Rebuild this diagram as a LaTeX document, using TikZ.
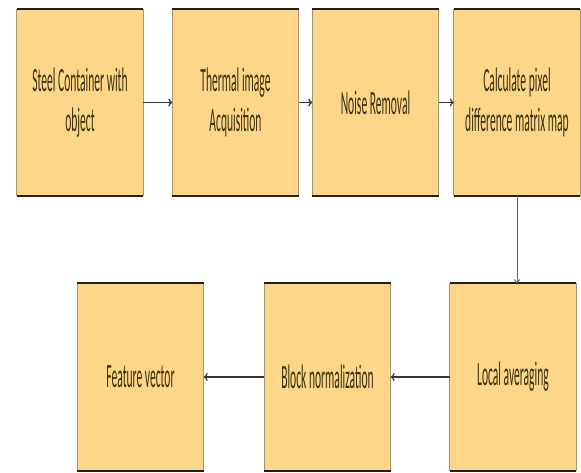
\documentclass[tikz,border=0pt]{standalone}
\usepackage{fontspec}
\usetikzlibrary{arrows.meta}
\newfontfamily\cfont[FakeStretch=0.34]{Carlito}
\definecolor{boxfill}{RGB}{253,214,138}
\definecolor{txtcol}{RGB}{58,48,10}
\definecolor{sidecol}{RGB}{170,150,110}
\definecolor{edgecol}{RGB}{35,30,25}
\tikzset{
  boxst/.style={minimum width=126pt, minimum height=187pt, inner sep=0pt,
    fill=boxfill, align=center, text=txtcol,
    font=\cfont\fontsize{34}{40}\selectfont},
  sidest/.style={draw=sidecol, line width=0.9pt},
  edgest/.style={draw=edgecol, line width=2pt},
  arr/.style={draw=edgecol!90, line width=1.3pt, -{To[length=4pt,width=8pt]}},
  varr/.style={draw=gray!80!black, line width=1pt, -{To[length=4pt,width=6pt]}}
}
\begin{document}
\begin{tikzpicture}[x=1pt,y=-1pt]
\useasboundingbox (0,0) rectangle (581,472);
\node[boxst] (a) at (80,102.5) {Steel Container with\\object};
\node[boxst] (b) at (235.5,102.5) {Thermal image\\Acquisition};
\node[boxst] (c) at (375.5,102.5) {Noise Removal};
\node[boxst] (d) at (517,102.5) {Calculate pixel\\difference matrix map};
\node[boxst] (e) at (140.5,377) {Feature vector};
\node[boxst] (f) at (327.5,377) {Block normalization};
\node[boxst] (g) at (513,377) {Local averaging};
\foreach \n in {a,b,c,d,e,f,g}{
  \draw[sidest] (\n.north west) -- (\n.south west);
  \draw[sidest] (\n.north east) -- (\n.south east);
  \draw[edgest] (\n.north west) -- (\n.north east);
  \draw[edgest] (\n.south west) -- (\n.south east);
}
\draw[arr] (a) -- (b);
\draw[arr] (b) -- (c);
\draw[arr] (c) -- (d);
\draw[varr] (d.south) -- (d.south |- g.north);
\draw[arr] (g) -- (f);
\draw[arr] (f) -- (e);
\end{tikzpicture}
\end{document}
